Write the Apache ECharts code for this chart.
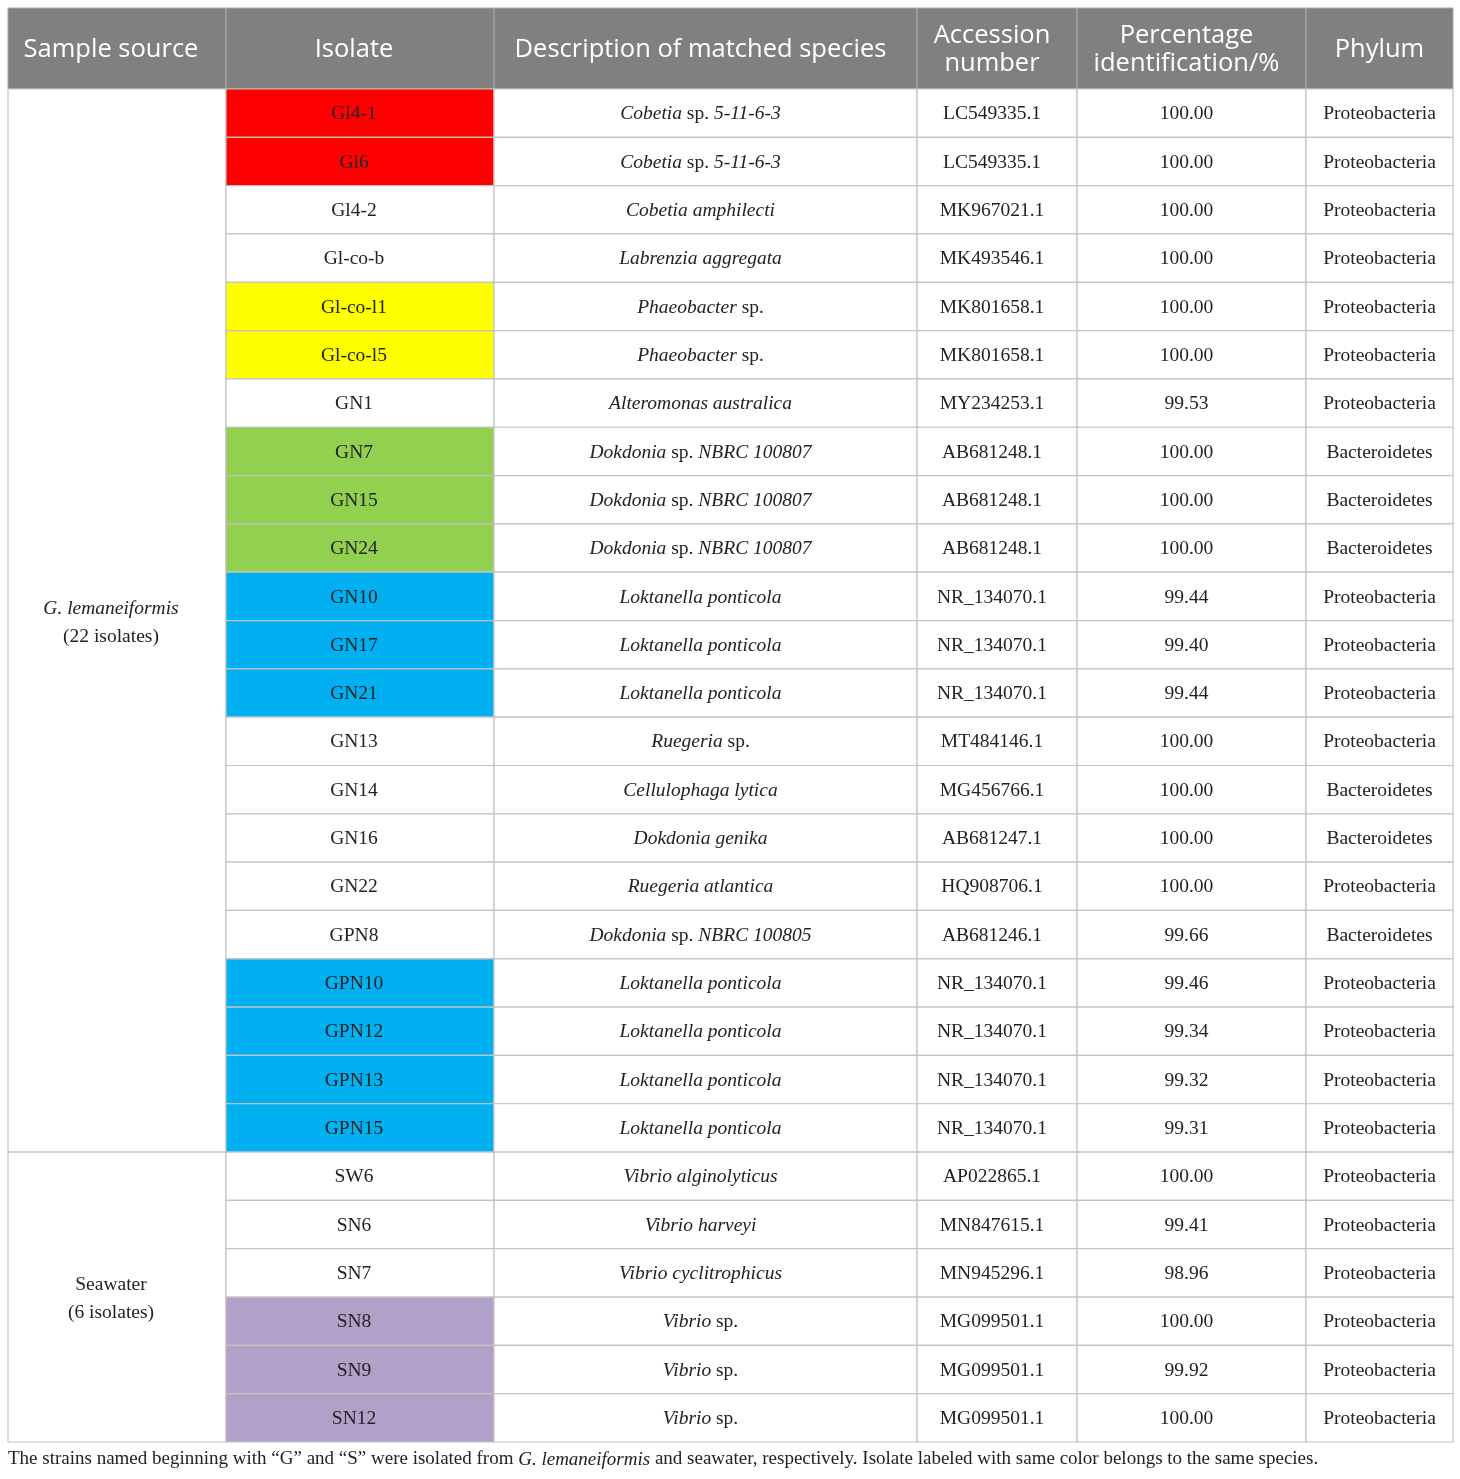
<!DOCTYPE html>
<html>
<head>
<meta charset="utf-8">
<script src="https://cdn.jsdelivr.net/npm/echarts@6/dist/echarts.min.js"></script>
<style>
html,body{margin:0;padding:0;background:#fff;}
#main{width:1460px;height:1479px;}
</style>
</head>
<body>
<div id="main"></div>
<script>
// table content
var headers = ['Sample source', 'Isolate', 'Description of matched species', 'Accession\nnumber', 'Percentage\nidentification/%', 'Phylum'];
var sources = ['{i|G. lemaneiformis}\n(22 isolates)', 'Seawater\n(6 isolates)'];
var sourceCounts = [22, 6];
var isolates = ['Gl4-1','Gl6','Gl4-2','Gl-co-b','Gl-co-l1','Gl-co-l5','GN1','GN7','GN15','GN24','GN10','GN17','GN21','GN13','GN14','GN16','GN22','GPN8','GPN10','GPN12','GPN13','GPN15','SW6','SN6','SN7','SN8','SN9','SN12'];
var species = [
  '*Cobetia* sp. *5-11-6-3*','*Cobetia* sp. *5-11-6-3*','*Cobetia amphilecti*','*Labrenzia aggregata*',
  '*Phaeobacter* sp.','*Phaeobacter* sp.','*Alteromonas australica*',
  '*Dokdonia* sp. *NBRC 100807*','*Dokdonia* sp. *NBRC 100807*','*Dokdonia* sp. *NBRC 100807*',
  '*Loktanella ponticola*','*Loktanella ponticola*','*Loktanella ponticola*',
  '*Ruegeria* sp.','*Cellulophaga lytica*','*Dokdonia genika*','*Ruegeria atlantica*','*Dokdonia* sp. *NBRC 100805*',
  '*Loktanella ponticola*','*Loktanella ponticola*','*Loktanella ponticola*','*Loktanella ponticola*',
  '*Vibrio alginolyticus*','*Vibrio harveyi*','*Vibrio cyclitrophicus*','*Vibrio* sp.','*Vibrio* sp.','*Vibrio* sp.'
];
var accessions = ['LC549335.1','LC549335.1','MK967021.1','MK493546.1','MK801658.1','MK801658.1','MY234253.1',
  'AB681248.1','AB681248.1','AB681248.1','NR_134070.1','NR_134070.1','NR_134070.1','MT484146.1','MG456766.1',
  'AB681247.1','HQ908706.1','AB681246.1','NR_134070.1','NR_134070.1','NR_134070.1','NR_134070.1',
  'AP022865.1','MN847615.1','MN945296.1','MG099501.1','MG099501.1','MG099501.1'];
var percents = [100.00,100.00,100.00,100.00,100.00,100.00,99.53,100.00,100.00,100.00,99.44,99.40,99.44,100.00,
  100.00,100.00,100.00,99.66,99.46,99.34,99.32,99.31,100.00,99.41,98.96,100.00,99.92,100.00];
var phyla = ['Proteobacteria','Proteobacteria','Proteobacteria','Proteobacteria','Proteobacteria','Proteobacteria','Proteobacteria',
  'Bacteroidetes','Bacteroidetes','Bacteroidetes','Proteobacteria','Proteobacteria','Proteobacteria','Proteobacteria',
  'Bacteroidetes','Bacteroidetes','Proteobacteria','Bacteroidetes','Proteobacteria','Proteobacteria','Proteobacteria',
  'Proteobacteria','Proteobacteria','Proteobacteria','Proteobacteria','Proteobacteria','Proteobacteria','Proteobacteria'];
// same species group -> same colour
var groups = ['cob','cob','','','pha','pha','','dok','dok','dok','lok','lok','lok','','','','','','lok','lok','lok','lok','','','','vib','vib','vib'];
var footnote = 'The strains named beginning with \u201cG\u201d and \u201cS\u201d were isolated from {i|G. lemaneiformis} and seawater, respectively. Isolate labeled with same color belongs to the same species.';

// layout / style
var groupColors = {cob:'#ff0000', pha:'#ffff00', dok:'#92d050', lok:'#00b0f0', vib:'#b1a0c7'};
var colWidths = [218, 268, 423, 160, 229, 147];
var colShift = [-6, -6, -5, -5, -5, 0];
var colEdges = [0];
colWidths.forEach(function(w){ colEdges.push(colEdges[colEdges.length-1] + w); });
var serif = '"Liberation Serif", "Times New Roman", serif';
var sans = '"Open Sans", "Noto Sans", sans-serif';
var lineCol = '#c4c4c4';
var bodySize = 19.5;
var italicRich = {i:{fontStyle:'italic', fontFamily:serif, fontSize:bodySize, fill:'#222'}};

function toRich(s){ return s.replace(/\*(.+?)\*/g, '{i|$1}'); }

var columns = [null, isolates, species.map(toRich), accessions, percents.map(function(v){return v.toFixed(2);}), phyla];

function cellBox(api, c0, c1, r0, r1){
  var p0 = api.coord([colEdges[c0], r0]);
  var p1 = api.coord([colEdges[c1], r1]);
  return {x:p0[0], y:Math.min(p0[1],p1[1]), width:p1[0]-p0[0], height:Math.abs(p1[1]-p0[1])};
}

var bodyData = [];
for (var r = 0; r < isolates.length; r++) {
  for (var c = 1; c < 6; c++) bodyData.push([c, r]);
}
var sourceData = [];
var start = 0;
sourceCounts.forEach(function(n, i){ sourceData.push([i, start, start + n]); start += n; });
var headerData = headers.map(function(h, i){ return [i, 0]; });

var chart = echarts.init(document.getElementById('main'));
chart.setOption({
  animation:false,
  backgroundColor:'#fff',
  grid:[
    {left:8, right:7, top:8, height:81},
    {left:8, right:7, top:89, bottom:37}
  ],
  xAxis:[
    {gridIndex:0, type:'value', min:0, max:colEdges[6], show:false},
    {gridIndex:1, type:'value', min:0, max:colEdges[6], show:false}
  ],
  yAxis:[
    {gridIndex:0, type:'value', min:0, max:1, inverse:true, show:false},
    {gridIndex:1, type:'value', min:0, max:isolates.length, inverse:true, show:false}
  ],
  graphic:[{
    type:'text', left:8, top:1450,
    style:{text:footnote, fontFamily:serif, fontSize:19, fill:'#222',
      rich:{i:{fontStyle:'italic', fontFamily:serif, fontSize:19, fill:'#222'}}}
  }],
  series:[
    {
      type:'custom', name:'header', xAxisIndex:0, yAxisIndex:0, data:headerData, silent:true,
      renderItem:function(params, api){
        var c = api.value(0);
        var b = cellBox(api, c, c+1, 0, 1);
        return {type:'group', children:[
          {type:'rect', shape:b, style:{fill:'#808080', stroke:'#a8a8a8', lineWidth:1}},
          {type:'text', style:{text:headers[c], x:b.x+b.width/2+colShift[c], y:b.y+b.height/2+1, align:'center', verticalAlign:'middle',
            fontFamily:sans, fontSize:25.5, lineHeight:28, fill:'#ffffff'}}
        ]};
      }
    },
    {
      type:'custom', name:'source', xAxisIndex:1, yAxisIndex:1, data:sourceData, silent:true,
      renderItem:function(params, api){
        var i = api.value(0);
        var b = cellBox(api, 0, 1, api.value(1), api.value(2));
        return {type:'group', children:[
          {type:'rect', shape:b, style:{fill:'#fff', stroke:lineCol, lineWidth:1.2}},
          {type:'text', style:{text:sources[i], x:b.x+b.width/2+colShift[0], y:b.y+b.height/2+2, align:'center', verticalAlign:'middle',
            fontFamily:serif, fontSize:bodySize, lineHeight:28, fill:'#222', rich:italicRich}}
        ]};
      }
    },
    {
      type:'custom', name:'body', xAxisIndex:1, yAxisIndex:1, data:bodyData, silent:true,
      renderItem:function(params, api){
        var c = api.value(0), r = api.value(1);
        var b = cellBox(api, c, c+1, r, r+1);
        var fill = (c === 1 && groups[r]) ? groupColors[groups[r]] : '#fff';
        return {type:'group', children:[
          {type:'rect', shape:b, style:{fill:fill, stroke:lineCol, lineWidth:1.2}},
          {type:'text', style:{text:columns[c][r], x:b.x+b.width/2+colShift[c], y:b.y+b.height/2+1, align:'center', verticalAlign:'middle',
            fontFamily:serif, fontSize:bodySize, fill:'#222', rich:italicRich}}
        ]};
      }
    }
  ]
});
</script>
</body>
</html>
